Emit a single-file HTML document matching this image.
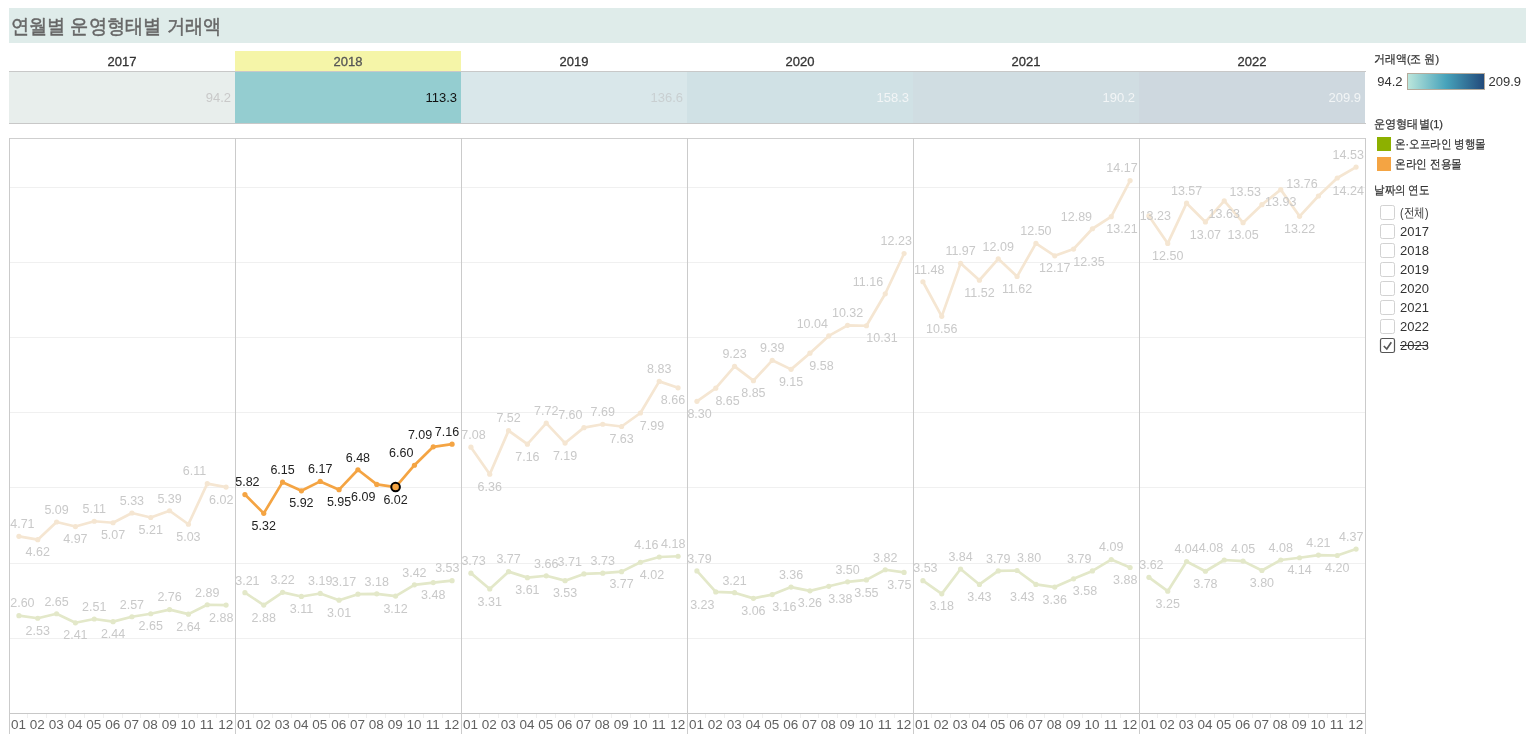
<!DOCTYPE html>
<html><head><meta charset="utf-8"><title>연월별 운영형태별 거래액</title>
<style>
html,body{margin:0;padding:0;background:#fff;}
body{width:1534px;height:744px;overflow:hidden;position:relative;font-family:"Liberation Sans", sans-serif;}
#title{position:absolute;left:9px;top:8px;width:1517px;height:35px;background:#dfecea;}
#title span{position:absolute;left:3px;top:5px;font-size:20px;color:#666;white-space:nowrap;}
svg{position:absolute;left:0;top:0;will-change:transform;}
svg text{font-family:"Liberation Sans", sans-serif;}
</style></head><body>
<div id="title"></div>
<svg width="1534" height="744" viewBox="0 0 1534 744">
<rect x="9" y="72" width="226" height="51" fill="#e8eeec"/>
<rect x="235" y="72" width="226" height="51" fill="#94cdd0"/>
<rect x="461" y="72" width="226" height="51" fill="#d9e7ea"/>
<rect x="687" y="72" width="226" height="51" fill="#d0e1e5"/>
<rect x="913" y="72" width="226" height="51" fill="#d0dde2"/>
<rect x="1139" y="72" width="226" height="51" fill="#ced8df"/>
<text x="231" y="102" text-anchor="end" font-size="13" fill="#c9c9c9">94.2</text>
<text x="457" y="102" text-anchor="end" font-size="13" fill="#111">113.3</text>
<text x="683" y="102" text-anchor="end" font-size="13" fill="#c9cfd1">136.6</text>
<text x="909" y="102" text-anchor="end" font-size="13" fill="#f2f5f6">158.3</text>
<text x="1135" y="102" text-anchor="end" font-size="13" fill="#f2f5f6">190.2</text>
<text x="1361" y="102" text-anchor="end" font-size="13" fill="#f2f5f6">209.9</text>
<rect x="235" y="51" width="226" height="20" fill="#f5f5a8"/>
<text x="122" y="66" text-anchor="middle" font-size="13" fill="#333" stroke="#333" stroke-width="0.3">2017</text>
<text x="348" y="66" text-anchor="middle" font-size="13" fill="#555" stroke="#555" stroke-width="0.3">2018</text>
<text x="574" y="66" text-anchor="middle" font-size="13" fill="#333" stroke="#333" stroke-width="0.3">2019</text>
<text x="800" y="66" text-anchor="middle" font-size="13" fill="#333" stroke="#333" stroke-width="0.3">2020</text>
<text x="1026" y="66" text-anchor="middle" font-size="13" fill="#333" stroke="#333" stroke-width="0.3">2021</text>
<text x="1252" y="66" text-anchor="middle" font-size="13" fill="#333" stroke="#333" stroke-width="0.3">2022</text>
<line x1="9" y1="71.5" x2="1366" y2="71.5" stroke="#c8c8c8" stroke-width="1"/>
<line x1="9" y1="123.5" x2="1366" y2="123.5" stroke="#c8c8c8" stroke-width="1"/>
<line x1="10" y1="638.5" x2="1365" y2="638.5" stroke="#f0f0f0" stroke-width="1"/>
<line x1="10" y1="563.5" x2="1365" y2="563.5" stroke="#f0f0f0" stroke-width="1"/>
<line x1="10" y1="487.5" x2="1365" y2="487.5" stroke="#f0f0f0" stroke-width="1"/>
<line x1="10" y1="412.5" x2="1365" y2="412.5" stroke="#f0f0f0" stroke-width="1"/>
<line x1="10" y1="337.5" x2="1365" y2="337.5" stroke="#f0f0f0" stroke-width="1"/>
<line x1="10" y1="262.5" x2="1365" y2="262.5" stroke="#f0f0f0" stroke-width="1"/>
<line x1="10" y1="187.5" x2="1365" y2="187.5" stroke="#f0f0f0" stroke-width="1"/>
<line x1="9" y1="138.5" x2="1366" y2="138.5" stroke="#cfcfcf" stroke-width="1"/>
<line x1="9" y1="713.5" x2="1366" y2="713.5" stroke="#c8c8c8" stroke-width="1"/>
<line x1="9.5" y1="138" x2="9.5" y2="734" stroke="#cbcbcb" stroke-width="1"/>
<line x1="235.5" y1="138" x2="235.5" y2="734" stroke="#cbcbcb" stroke-width="1"/>
<line x1="461.5" y1="138" x2="461.5" y2="734" stroke="#cbcbcb" stroke-width="1"/>
<line x1="687.5" y1="138" x2="687.5" y2="734" stroke="#cbcbcb" stroke-width="1"/>
<line x1="913.5" y1="138" x2="913.5" y2="734" stroke="#cbcbcb" stroke-width="1"/>
<line x1="1139.5" y1="138" x2="1139.5" y2="734" stroke="#cbcbcb" stroke-width="1"/>
<line x1="1365.5" y1="138" x2="1365.5" y2="734" stroke="#cbcbcb" stroke-width="1"/>
<line x1="27.50" y1="714" x2="27.50" y2="718" stroke="#f0f0f0" stroke-width="1"/>
<line x1="46.50" y1="714" x2="46.50" y2="718" stroke="#f0f0f0" stroke-width="1"/>
<line x1="65.50" y1="714" x2="65.50" y2="718" stroke="#f0f0f0" stroke-width="1"/>
<line x1="84.50" y1="714" x2="84.50" y2="718" stroke="#f0f0f0" stroke-width="1"/>
<line x1="103.50" y1="714" x2="103.50" y2="718" stroke="#f0f0f0" stroke-width="1"/>
<line x1="122.50" y1="714" x2="122.50" y2="718" stroke="#f0f0f0" stroke-width="1"/>
<line x1="140.50" y1="714" x2="140.50" y2="718" stroke="#f0f0f0" stroke-width="1"/>
<line x1="159.50" y1="714" x2="159.50" y2="718" stroke="#f0f0f0" stroke-width="1"/>
<line x1="178.50" y1="714" x2="178.50" y2="718" stroke="#f0f0f0" stroke-width="1"/>
<line x1="197.50" y1="714" x2="197.50" y2="718" stroke="#f0f0f0" stroke-width="1"/>
<line x1="216.50" y1="714" x2="216.50" y2="718" stroke="#f0f0f0" stroke-width="1"/>
<line x1="253.50" y1="714" x2="253.50" y2="718" stroke="#f0f0f0" stroke-width="1"/>
<line x1="272.50" y1="714" x2="272.50" y2="718" stroke="#f0f0f0" stroke-width="1"/>
<line x1="291.50" y1="714" x2="291.50" y2="718" stroke="#f0f0f0" stroke-width="1"/>
<line x1="310.50" y1="714" x2="310.50" y2="718" stroke="#f0f0f0" stroke-width="1"/>
<line x1="329.50" y1="714" x2="329.50" y2="718" stroke="#f0f0f0" stroke-width="1"/>
<line x1="348.50" y1="714" x2="348.50" y2="718" stroke="#f0f0f0" stroke-width="1"/>
<line x1="366.50" y1="714" x2="366.50" y2="718" stroke="#f0f0f0" stroke-width="1"/>
<line x1="385.50" y1="714" x2="385.50" y2="718" stroke="#f0f0f0" stroke-width="1"/>
<line x1="404.50" y1="714" x2="404.50" y2="718" stroke="#f0f0f0" stroke-width="1"/>
<line x1="423.50" y1="714" x2="423.50" y2="718" stroke="#f0f0f0" stroke-width="1"/>
<line x1="442.50" y1="714" x2="442.50" y2="718" stroke="#f0f0f0" stroke-width="1"/>
<line x1="479.50" y1="714" x2="479.50" y2="718" stroke="#f0f0f0" stroke-width="1"/>
<line x1="498.50" y1="714" x2="498.50" y2="718" stroke="#f0f0f0" stroke-width="1"/>
<line x1="517.50" y1="714" x2="517.50" y2="718" stroke="#f0f0f0" stroke-width="1"/>
<line x1="536.50" y1="714" x2="536.50" y2="718" stroke="#f0f0f0" stroke-width="1"/>
<line x1="555.50" y1="714" x2="555.50" y2="718" stroke="#f0f0f0" stroke-width="1"/>
<line x1="574.50" y1="714" x2="574.50" y2="718" stroke="#f0f0f0" stroke-width="1"/>
<line x1="592.50" y1="714" x2="592.50" y2="718" stroke="#f0f0f0" stroke-width="1"/>
<line x1="611.50" y1="714" x2="611.50" y2="718" stroke="#f0f0f0" stroke-width="1"/>
<line x1="630.50" y1="714" x2="630.50" y2="718" stroke="#f0f0f0" stroke-width="1"/>
<line x1="649.50" y1="714" x2="649.50" y2="718" stroke="#f0f0f0" stroke-width="1"/>
<line x1="668.50" y1="714" x2="668.50" y2="718" stroke="#f0f0f0" stroke-width="1"/>
<line x1="705.50" y1="714" x2="705.50" y2="718" stroke="#f0f0f0" stroke-width="1"/>
<line x1="724.50" y1="714" x2="724.50" y2="718" stroke="#f0f0f0" stroke-width="1"/>
<line x1="743.50" y1="714" x2="743.50" y2="718" stroke="#f0f0f0" stroke-width="1"/>
<line x1="762.50" y1="714" x2="762.50" y2="718" stroke="#f0f0f0" stroke-width="1"/>
<line x1="781.50" y1="714" x2="781.50" y2="718" stroke="#f0f0f0" stroke-width="1"/>
<line x1="800.50" y1="714" x2="800.50" y2="718" stroke="#f0f0f0" stroke-width="1"/>
<line x1="818.50" y1="714" x2="818.50" y2="718" stroke="#f0f0f0" stroke-width="1"/>
<line x1="837.50" y1="714" x2="837.50" y2="718" stroke="#f0f0f0" stroke-width="1"/>
<line x1="856.50" y1="714" x2="856.50" y2="718" stroke="#f0f0f0" stroke-width="1"/>
<line x1="875.50" y1="714" x2="875.50" y2="718" stroke="#f0f0f0" stroke-width="1"/>
<line x1="894.50" y1="714" x2="894.50" y2="718" stroke="#f0f0f0" stroke-width="1"/>
<line x1="931.50" y1="714" x2="931.50" y2="718" stroke="#f0f0f0" stroke-width="1"/>
<line x1="950.50" y1="714" x2="950.50" y2="718" stroke="#f0f0f0" stroke-width="1"/>
<line x1="969.50" y1="714" x2="969.50" y2="718" stroke="#f0f0f0" stroke-width="1"/>
<line x1="988.50" y1="714" x2="988.50" y2="718" stroke="#f0f0f0" stroke-width="1"/>
<line x1="1007.50" y1="714" x2="1007.50" y2="718" stroke="#f0f0f0" stroke-width="1"/>
<line x1="1026.50" y1="714" x2="1026.50" y2="718" stroke="#f0f0f0" stroke-width="1"/>
<line x1="1044.50" y1="714" x2="1044.50" y2="718" stroke="#f0f0f0" stroke-width="1"/>
<line x1="1063.50" y1="714" x2="1063.50" y2="718" stroke="#f0f0f0" stroke-width="1"/>
<line x1="1082.50" y1="714" x2="1082.50" y2="718" stroke="#f0f0f0" stroke-width="1"/>
<line x1="1101.50" y1="714" x2="1101.50" y2="718" stroke="#f0f0f0" stroke-width="1"/>
<line x1="1120.50" y1="714" x2="1120.50" y2="718" stroke="#f0f0f0" stroke-width="1"/>
<line x1="1157.50" y1="714" x2="1157.50" y2="718" stroke="#f0f0f0" stroke-width="1"/>
<line x1="1176.50" y1="714" x2="1176.50" y2="718" stroke="#f0f0f0" stroke-width="1"/>
<line x1="1195.50" y1="714" x2="1195.50" y2="718" stroke="#f0f0f0" stroke-width="1"/>
<line x1="1214.50" y1="714" x2="1214.50" y2="718" stroke="#f0f0f0" stroke-width="1"/>
<line x1="1233.50" y1="714" x2="1233.50" y2="718" stroke="#f0f0f0" stroke-width="1"/>
<line x1="1252.50" y1="714" x2="1252.50" y2="718" stroke="#f0f0f0" stroke-width="1"/>
<line x1="1270.50" y1="714" x2="1270.50" y2="718" stroke="#f0f0f0" stroke-width="1"/>
<line x1="1289.50" y1="714" x2="1289.50" y2="718" stroke="#f0f0f0" stroke-width="1"/>
<line x1="1308.50" y1="714" x2="1308.50" y2="718" stroke="#f0f0f0" stroke-width="1"/>
<line x1="1327.50" y1="714" x2="1327.50" y2="718" stroke="#f0f0f0" stroke-width="1"/>
<line x1="1346.50" y1="714" x2="1346.50" y2="718" stroke="#f0f0f0" stroke-width="1"/>
<text x="18.52" y="729" text-anchor="middle" font-size="13.5" fill="#606060">01</text>
<text x="37.35" y="729" text-anchor="middle" font-size="13.5" fill="#606060">02</text>
<text x="56.18" y="729" text-anchor="middle" font-size="13.5" fill="#606060">03</text>
<text x="75.02" y="729" text-anchor="middle" font-size="13.5" fill="#606060">04</text>
<text x="93.85" y="729" text-anchor="middle" font-size="13.5" fill="#606060">05</text>
<text x="112.68" y="729" text-anchor="middle" font-size="13.5" fill="#606060">06</text>
<text x="131.52" y="729" text-anchor="middle" font-size="13.5" fill="#606060">07</text>
<text x="150.35" y="729" text-anchor="middle" font-size="13.5" fill="#606060">08</text>
<text x="169.18" y="729" text-anchor="middle" font-size="13.5" fill="#606060">09</text>
<text x="188.02" y="729" text-anchor="middle" font-size="13.5" fill="#606060">10</text>
<text x="206.85" y="729" text-anchor="middle" font-size="13.5" fill="#606060">11</text>
<text x="225.68" y="729" text-anchor="middle" font-size="13.5" fill="#606060">12</text>
<text x="244.52" y="729" text-anchor="middle" font-size="13.5" fill="#606060">01</text>
<text x="263.35" y="729" text-anchor="middle" font-size="13.5" fill="#606060">02</text>
<text x="282.18" y="729" text-anchor="middle" font-size="13.5" fill="#606060">03</text>
<text x="301.02" y="729" text-anchor="middle" font-size="13.5" fill="#606060">04</text>
<text x="319.85" y="729" text-anchor="middle" font-size="13.5" fill="#606060">05</text>
<text x="338.68" y="729" text-anchor="middle" font-size="13.5" fill="#606060">06</text>
<text x="357.52" y="729" text-anchor="middle" font-size="13.5" fill="#606060">07</text>
<text x="376.35" y="729" text-anchor="middle" font-size="13.5" fill="#606060">08</text>
<text x="395.18" y="729" text-anchor="middle" font-size="13.5" fill="#606060">09</text>
<text x="414.02" y="729" text-anchor="middle" font-size="13.5" fill="#606060">10</text>
<text x="432.85" y="729" text-anchor="middle" font-size="13.5" fill="#606060">11</text>
<text x="451.68" y="729" text-anchor="middle" font-size="13.5" fill="#606060">12</text>
<text x="470.52" y="729" text-anchor="middle" font-size="13.5" fill="#606060">01</text>
<text x="489.35" y="729" text-anchor="middle" font-size="13.5" fill="#606060">02</text>
<text x="508.18" y="729" text-anchor="middle" font-size="13.5" fill="#606060">03</text>
<text x="527.02" y="729" text-anchor="middle" font-size="13.5" fill="#606060">04</text>
<text x="545.85" y="729" text-anchor="middle" font-size="13.5" fill="#606060">05</text>
<text x="564.68" y="729" text-anchor="middle" font-size="13.5" fill="#606060">06</text>
<text x="583.52" y="729" text-anchor="middle" font-size="13.5" fill="#606060">07</text>
<text x="602.35" y="729" text-anchor="middle" font-size="13.5" fill="#606060">08</text>
<text x="621.18" y="729" text-anchor="middle" font-size="13.5" fill="#606060">09</text>
<text x="640.02" y="729" text-anchor="middle" font-size="13.5" fill="#606060">10</text>
<text x="658.85" y="729" text-anchor="middle" font-size="13.5" fill="#606060">11</text>
<text x="677.68" y="729" text-anchor="middle" font-size="13.5" fill="#606060">12</text>
<text x="696.52" y="729" text-anchor="middle" font-size="13.5" fill="#606060">01</text>
<text x="715.35" y="729" text-anchor="middle" font-size="13.5" fill="#606060">02</text>
<text x="734.18" y="729" text-anchor="middle" font-size="13.5" fill="#606060">03</text>
<text x="753.02" y="729" text-anchor="middle" font-size="13.5" fill="#606060">04</text>
<text x="771.85" y="729" text-anchor="middle" font-size="13.5" fill="#606060">05</text>
<text x="790.68" y="729" text-anchor="middle" font-size="13.5" fill="#606060">06</text>
<text x="809.52" y="729" text-anchor="middle" font-size="13.5" fill="#606060">07</text>
<text x="828.35" y="729" text-anchor="middle" font-size="13.5" fill="#606060">08</text>
<text x="847.18" y="729" text-anchor="middle" font-size="13.5" fill="#606060">09</text>
<text x="866.02" y="729" text-anchor="middle" font-size="13.5" fill="#606060">10</text>
<text x="884.85" y="729" text-anchor="middle" font-size="13.5" fill="#606060">11</text>
<text x="903.68" y="729" text-anchor="middle" font-size="13.5" fill="#606060">12</text>
<text x="922.52" y="729" text-anchor="middle" font-size="13.5" fill="#606060">01</text>
<text x="941.35" y="729" text-anchor="middle" font-size="13.5" fill="#606060">02</text>
<text x="960.18" y="729" text-anchor="middle" font-size="13.5" fill="#606060">03</text>
<text x="979.02" y="729" text-anchor="middle" font-size="13.5" fill="#606060">04</text>
<text x="997.85" y="729" text-anchor="middle" font-size="13.5" fill="#606060">05</text>
<text x="1016.68" y="729" text-anchor="middle" font-size="13.5" fill="#606060">06</text>
<text x="1035.52" y="729" text-anchor="middle" font-size="13.5" fill="#606060">07</text>
<text x="1054.35" y="729" text-anchor="middle" font-size="13.5" fill="#606060">08</text>
<text x="1073.18" y="729" text-anchor="middle" font-size="13.5" fill="#606060">09</text>
<text x="1092.02" y="729" text-anchor="middle" font-size="13.5" fill="#606060">10</text>
<text x="1110.85" y="729" text-anchor="middle" font-size="13.5" fill="#606060">11</text>
<text x="1129.68" y="729" text-anchor="middle" font-size="13.5" fill="#606060">12</text>
<text x="1148.52" y="729" text-anchor="middle" font-size="13.5" fill="#606060">01</text>
<text x="1167.35" y="729" text-anchor="middle" font-size="13.5" fill="#606060">02</text>
<text x="1186.18" y="729" text-anchor="middle" font-size="13.5" fill="#606060">03</text>
<text x="1205.02" y="729" text-anchor="middle" font-size="13.5" fill="#606060">04</text>
<text x="1223.85" y="729" text-anchor="middle" font-size="13.5" fill="#606060">05</text>
<text x="1242.68" y="729" text-anchor="middle" font-size="13.5" fill="#606060">06</text>
<text x="1261.52" y="729" text-anchor="middle" font-size="13.5" fill="#606060">07</text>
<text x="1280.35" y="729" text-anchor="middle" font-size="13.5" fill="#606060">08</text>
<text x="1299.18" y="729" text-anchor="middle" font-size="13.5" fill="#606060">09</text>
<text x="1318.02" y="729" text-anchor="middle" font-size="13.5" fill="#606060">10</text>
<text x="1336.85" y="729" text-anchor="middle" font-size="13.5" fill="#606060">11</text>
<text x="1355.68" y="729" text-anchor="middle" font-size="13.5" fill="#606060">12</text>
<path d="M18.92,536.30 L37.75,539.69 L56.58,522.02 L75.42,526.53 L94.25,521.26 L113.08,522.77 L131.92,512.99 L150.75,517.50 L169.58,510.74 L188.42,524.27 L207.25,483.66 L226.08,487.05" fill="none" stroke="#f5e6d2" stroke-width="2.7" stroke-linejoin="round" stroke-linecap="round"/>
<circle cx="18.92" cy="536.30" r="2.6" fill="#f5e6d2"/>
<circle cx="37.75" cy="539.69" r="2.6" fill="#f5e6d2"/>
<circle cx="56.58" cy="522.02" r="2.6" fill="#f5e6d2"/>
<circle cx="75.42" cy="526.53" r="2.6" fill="#f5e6d2"/>
<circle cx="94.25" cy="521.26" r="2.6" fill="#f5e6d2"/>
<circle cx="113.08" cy="522.77" r="2.6" fill="#f5e6d2"/>
<circle cx="131.92" cy="512.99" r="2.6" fill="#f5e6d2"/>
<circle cx="150.75" cy="517.50" r="2.6" fill="#f5e6d2"/>
<circle cx="169.58" cy="510.74" r="2.6" fill="#f5e6d2"/>
<circle cx="188.42" cy="524.27" r="2.6" fill="#f5e6d2"/>
<circle cx="207.25" cy="483.66" r="2.6" fill="#f5e6d2"/>
<circle cx="226.08" cy="487.05" r="2.6" fill="#f5e6d2"/>
<path d="M18.92,615.64 L37.75,618.27 L56.58,613.76 L75.42,622.78 L94.25,619.02 L113.08,621.66 L131.92,616.77 L150.75,613.76 L169.58,609.62 L188.42,614.14 L207.25,604.74 L226.08,605.11" fill="none" stroke="#e3e8c9" stroke-width="2.7" stroke-linejoin="round" stroke-linecap="round"/>
<circle cx="18.92" cy="615.64" r="2.6" fill="#e3e8c9"/>
<circle cx="37.75" cy="618.27" r="2.6" fill="#e3e8c9"/>
<circle cx="56.58" cy="613.76" r="2.6" fill="#e3e8c9"/>
<circle cx="75.42" cy="622.78" r="2.6" fill="#e3e8c9"/>
<circle cx="94.25" cy="619.02" r="2.6" fill="#e3e8c9"/>
<circle cx="113.08" cy="621.66" r="2.6" fill="#e3e8c9"/>
<circle cx="131.92" cy="616.77" r="2.6" fill="#e3e8c9"/>
<circle cx="150.75" cy="613.76" r="2.6" fill="#e3e8c9"/>
<circle cx="169.58" cy="609.62" r="2.6" fill="#e3e8c9"/>
<circle cx="188.42" cy="614.14" r="2.6" fill="#e3e8c9"/>
<circle cx="207.25" cy="604.74" r="2.6" fill="#e3e8c9"/>
<circle cx="226.08" cy="605.11" r="2.6" fill="#e3e8c9"/>
<path d="M244.92,592.70 L263.75,605.11 L282.58,592.33 L301.42,596.46 L320.25,593.46 L339.08,600.22 L357.92,594.21 L376.75,593.83 L395.58,596.09 L414.42,584.81 L433.25,582.55 L452.08,580.67" fill="none" stroke="#e3e8c9" stroke-width="2.7" stroke-linejoin="round" stroke-linecap="round"/>
<circle cx="244.92" cy="592.70" r="2.6" fill="#e3e8c9"/>
<circle cx="263.75" cy="605.11" r="2.6" fill="#e3e8c9"/>
<circle cx="282.58" cy="592.33" r="2.6" fill="#e3e8c9"/>
<circle cx="301.42" cy="596.46" r="2.6" fill="#e3e8c9"/>
<circle cx="320.25" cy="593.46" r="2.6" fill="#e3e8c9"/>
<circle cx="339.08" cy="600.22" r="2.6" fill="#e3e8c9"/>
<circle cx="357.92" cy="594.21" r="2.6" fill="#e3e8c9"/>
<circle cx="376.75" cy="593.83" r="2.6" fill="#e3e8c9"/>
<circle cx="395.58" cy="596.09" r="2.6" fill="#e3e8c9"/>
<circle cx="414.42" cy="584.81" r="2.6" fill="#e3e8c9"/>
<circle cx="433.25" cy="582.55" r="2.6" fill="#e3e8c9"/>
<circle cx="452.08" cy="580.67" r="2.6" fill="#e3e8c9"/>
<path d="M470.92,447.19 L489.75,474.26 L508.58,430.65 L527.42,444.18 L546.25,423.13 L565.08,443.06 L583.92,427.64 L602.75,424.26 L621.58,426.51 L640.42,412.98 L659.25,381.39 L678.08,387.78" fill="none" stroke="#f5e6d2" stroke-width="2.7" stroke-linejoin="round" stroke-linecap="round"/>
<circle cx="470.92" cy="447.19" r="2.6" fill="#f5e6d2"/>
<circle cx="489.75" cy="474.26" r="2.6" fill="#f5e6d2"/>
<circle cx="508.58" cy="430.65" r="2.6" fill="#f5e6d2"/>
<circle cx="527.42" cy="444.18" r="2.6" fill="#f5e6d2"/>
<circle cx="546.25" cy="423.13" r="2.6" fill="#f5e6d2"/>
<circle cx="565.08" cy="443.06" r="2.6" fill="#f5e6d2"/>
<circle cx="583.92" cy="427.64" r="2.6" fill="#f5e6d2"/>
<circle cx="602.75" cy="424.26" r="2.6" fill="#f5e6d2"/>
<circle cx="621.58" cy="426.51" r="2.6" fill="#f5e6d2"/>
<circle cx="640.42" cy="412.98" r="2.6" fill="#f5e6d2"/>
<circle cx="659.25" cy="381.39" r="2.6" fill="#f5e6d2"/>
<circle cx="678.08" cy="387.78" r="2.6" fill="#f5e6d2"/>
<path d="M470.92,573.15 L489.75,588.94 L508.58,571.65 L527.42,577.66 L546.25,575.78 L565.08,580.67 L583.92,573.90 L602.75,573.15 L621.58,571.65 L640.42,562.25 L659.25,556.98 L678.08,556.23" fill="none" stroke="#e3e8c9" stroke-width="2.7" stroke-linejoin="round" stroke-linecap="round"/>
<circle cx="470.92" cy="573.15" r="2.6" fill="#e3e8c9"/>
<circle cx="489.75" cy="588.94" r="2.6" fill="#e3e8c9"/>
<circle cx="508.58" cy="571.65" r="2.6" fill="#e3e8c9"/>
<circle cx="527.42" cy="577.66" r="2.6" fill="#e3e8c9"/>
<circle cx="546.25" cy="575.78" r="2.6" fill="#e3e8c9"/>
<circle cx="565.08" cy="580.67" r="2.6" fill="#e3e8c9"/>
<circle cx="583.92" cy="573.90" r="2.6" fill="#e3e8c9"/>
<circle cx="602.75" cy="573.15" r="2.6" fill="#e3e8c9"/>
<circle cx="621.58" cy="571.65" r="2.6" fill="#e3e8c9"/>
<circle cx="640.42" cy="562.25" r="2.6" fill="#e3e8c9"/>
<circle cx="659.25" cy="556.98" r="2.6" fill="#e3e8c9"/>
<circle cx="678.08" cy="556.23" r="2.6" fill="#e3e8c9"/>
<path d="M696.92,401.32 L715.75,388.16 L734.58,366.35 L753.42,380.64 L772.25,360.34 L791.08,369.36 L809.92,353.19 L828.75,335.90 L847.58,325.37 L866.42,325.74 L885.25,293.78 L904.08,253.55" fill="none" stroke="#f5e6d2" stroke-width="2.7" stroke-linejoin="round" stroke-linecap="round"/>
<circle cx="696.92" cy="401.32" r="2.6" fill="#f5e6d2"/>
<circle cx="715.75" cy="388.16" r="2.6" fill="#f5e6d2"/>
<circle cx="734.58" cy="366.35" r="2.6" fill="#f5e6d2"/>
<circle cx="753.42" cy="380.64" r="2.6" fill="#f5e6d2"/>
<circle cx="772.25" cy="360.34" r="2.6" fill="#f5e6d2"/>
<circle cx="791.08" cy="369.36" r="2.6" fill="#f5e6d2"/>
<circle cx="809.92" cy="353.19" r="2.6" fill="#f5e6d2"/>
<circle cx="828.75" cy="335.90" r="2.6" fill="#f5e6d2"/>
<circle cx="847.58" cy="325.37" r="2.6" fill="#f5e6d2"/>
<circle cx="866.42" cy="325.74" r="2.6" fill="#f5e6d2"/>
<circle cx="885.25" cy="293.78" r="2.6" fill="#f5e6d2"/>
<circle cx="904.08" cy="253.55" r="2.6" fill="#f5e6d2"/>
<path d="M696.92,570.90 L715.75,591.95 L734.58,592.70 L753.42,598.34 L772.25,594.58 L791.08,587.06 L809.92,590.82 L828.75,586.31 L847.58,581.80 L866.42,579.92 L885.25,569.77 L904.08,572.40" fill="none" stroke="#e3e8c9" stroke-width="2.7" stroke-linejoin="round" stroke-linecap="round"/>
<circle cx="696.92" cy="570.90" r="2.6" fill="#e3e8c9"/>
<circle cx="715.75" cy="591.95" r="2.6" fill="#e3e8c9"/>
<circle cx="734.58" cy="592.70" r="2.6" fill="#e3e8c9"/>
<circle cx="753.42" cy="598.34" r="2.6" fill="#e3e8c9"/>
<circle cx="772.25" cy="594.58" r="2.6" fill="#e3e8c9"/>
<circle cx="791.08" cy="587.06" r="2.6" fill="#e3e8c9"/>
<circle cx="809.92" cy="590.82" r="2.6" fill="#e3e8c9"/>
<circle cx="828.75" cy="586.31" r="2.6" fill="#e3e8c9"/>
<circle cx="847.58" cy="581.80" r="2.6" fill="#e3e8c9"/>
<circle cx="866.42" cy="579.92" r="2.6" fill="#e3e8c9"/>
<circle cx="885.25" cy="569.77" r="2.6" fill="#e3e8c9"/>
<circle cx="904.08" cy="572.40" r="2.6" fill="#e3e8c9"/>
<path d="M922.92,281.75 L941.75,316.34 L960.58,263.33 L979.42,280.25 L998.25,258.82 L1017.08,276.49 L1035.92,243.40 L1054.75,255.81 L1073.58,249.04 L1092.42,228.74 L1111.25,216.70 L1130.08,180.61" fill="none" stroke="#f5e6d2" stroke-width="2.7" stroke-linejoin="round" stroke-linecap="round"/>
<circle cx="922.92" cy="281.75" r="2.6" fill="#f5e6d2"/>
<circle cx="941.75" cy="316.34" r="2.6" fill="#f5e6d2"/>
<circle cx="960.58" cy="263.33" r="2.6" fill="#f5e6d2"/>
<circle cx="979.42" cy="280.25" r="2.6" fill="#f5e6d2"/>
<circle cx="998.25" cy="258.82" r="2.6" fill="#f5e6d2"/>
<circle cx="1017.08" cy="276.49" r="2.6" fill="#f5e6d2"/>
<circle cx="1035.92" cy="243.40" r="2.6" fill="#f5e6d2"/>
<circle cx="1054.75" cy="255.81" r="2.6" fill="#f5e6d2"/>
<circle cx="1073.58" cy="249.04" r="2.6" fill="#f5e6d2"/>
<circle cx="1092.42" cy="228.74" r="2.6" fill="#f5e6d2"/>
<circle cx="1111.25" cy="216.70" r="2.6" fill="#f5e6d2"/>
<circle cx="1130.08" cy="180.61" r="2.6" fill="#f5e6d2"/>
<path d="M922.92,580.67 L941.75,593.83 L960.58,569.02 L979.42,584.43 L998.25,570.90 L1017.08,570.52 L1035.92,584.43 L1054.75,587.06 L1073.58,578.79 L1092.42,570.90 L1111.25,559.62 L1130.08,567.51" fill="none" stroke="#e3e8c9" stroke-width="2.7" stroke-linejoin="round" stroke-linecap="round"/>
<circle cx="922.92" cy="580.67" r="2.6" fill="#e3e8c9"/>
<circle cx="941.75" cy="593.83" r="2.6" fill="#e3e8c9"/>
<circle cx="960.58" cy="569.02" r="2.6" fill="#e3e8c9"/>
<circle cx="979.42" cy="584.43" r="2.6" fill="#e3e8c9"/>
<circle cx="998.25" cy="570.90" r="2.6" fill="#e3e8c9"/>
<circle cx="1017.08" cy="570.52" r="2.6" fill="#e3e8c9"/>
<circle cx="1035.92" cy="584.43" r="2.6" fill="#e3e8c9"/>
<circle cx="1054.75" cy="587.06" r="2.6" fill="#e3e8c9"/>
<circle cx="1073.58" cy="578.79" r="2.6" fill="#e3e8c9"/>
<circle cx="1092.42" cy="570.90" r="2.6" fill="#e3e8c9"/>
<circle cx="1111.25" cy="559.62" r="2.6" fill="#e3e8c9"/>
<circle cx="1130.08" cy="567.51" r="2.6" fill="#e3e8c9"/>
<path d="M1148.92,215.95 L1167.75,243.40 L1186.58,203.17 L1205.42,221.97 L1224.25,200.91 L1243.08,222.72 L1261.92,204.67 L1280.75,189.63 L1299.58,216.33 L1318.42,196.02 L1337.25,177.98 L1356.08,167.07" fill="none" stroke="#f5e6d2" stroke-width="2.7" stroke-linejoin="round" stroke-linecap="round"/>
<circle cx="1148.92" cy="215.95" r="2.6" fill="#f5e6d2"/>
<circle cx="1167.75" cy="243.40" r="2.6" fill="#f5e6d2"/>
<circle cx="1186.58" cy="203.17" r="2.6" fill="#f5e6d2"/>
<circle cx="1205.42" cy="221.97" r="2.6" fill="#f5e6d2"/>
<circle cx="1224.25" cy="200.91" r="2.6" fill="#f5e6d2"/>
<circle cx="1243.08" cy="222.72" r="2.6" fill="#f5e6d2"/>
<circle cx="1261.92" cy="204.67" r="2.6" fill="#f5e6d2"/>
<circle cx="1280.75" cy="189.63" r="2.6" fill="#f5e6d2"/>
<circle cx="1299.58" cy="216.33" r="2.6" fill="#f5e6d2"/>
<circle cx="1318.42" cy="196.02" r="2.6" fill="#f5e6d2"/>
<circle cx="1337.25" cy="177.98" r="2.6" fill="#f5e6d2"/>
<circle cx="1356.08" cy="167.07" r="2.6" fill="#f5e6d2"/>
<path d="M1148.92,577.29 L1167.75,591.20 L1186.58,561.50 L1205.42,571.27 L1224.25,559.99 L1243.08,561.12 L1261.92,570.52 L1280.75,559.99 L1299.58,557.74 L1318.42,555.10 L1337.25,555.48 L1356.08,549.09" fill="none" stroke="#e3e8c9" stroke-width="2.7" stroke-linejoin="round" stroke-linecap="round"/>
<circle cx="1148.92" cy="577.29" r="2.6" fill="#e3e8c9"/>
<circle cx="1167.75" cy="591.20" r="2.6" fill="#e3e8c9"/>
<circle cx="1186.58" cy="561.50" r="2.6" fill="#e3e8c9"/>
<circle cx="1205.42" cy="571.27" r="2.6" fill="#e3e8c9"/>
<circle cx="1224.25" cy="559.99" r="2.6" fill="#e3e8c9"/>
<circle cx="1243.08" cy="561.12" r="2.6" fill="#e3e8c9"/>
<circle cx="1261.92" cy="570.52" r="2.6" fill="#e3e8c9"/>
<circle cx="1280.75" cy="559.99" r="2.6" fill="#e3e8c9"/>
<circle cx="1299.58" cy="557.74" r="2.6" fill="#e3e8c9"/>
<circle cx="1318.42" cy="555.10" r="2.6" fill="#e3e8c9"/>
<circle cx="1337.25" cy="555.48" r="2.6" fill="#e3e8c9"/>
<circle cx="1356.08" cy="549.09" r="2.6" fill="#e3e8c9"/>
<text x="22.40" y="528.10" text-anchor="middle" font-size="12.5" fill="#c9c9c9">4.71</text>
<text x="37.75" y="556.29" text-anchor="middle" font-size="12.5" fill="#c9c9c9">4.62</text>
<text x="56.58" y="513.82" text-anchor="middle" font-size="12.5" fill="#c9c9c9">5.09</text>
<text x="75.42" y="543.13" text-anchor="middle" font-size="12.5" fill="#c9c9c9">4.97</text>
<text x="94.25" y="513.06" text-anchor="middle" font-size="12.5" fill="#c9c9c9">5.11</text>
<text x="113.08" y="539.37" text-anchor="middle" font-size="12.5" fill="#c9c9c9">5.07</text>
<text x="131.92" y="504.79" text-anchor="middle" font-size="12.5" fill="#c9c9c9">5.33</text>
<text x="150.75" y="534.10" text-anchor="middle" font-size="12.5" fill="#c9c9c9">5.21</text>
<text x="169.58" y="502.54" text-anchor="middle" font-size="12.5" fill="#c9c9c9">5.39</text>
<text x="188.42" y="540.87" text-anchor="middle" font-size="12.5" fill="#c9c9c9">5.03</text>
<text x="194.50" y="475.46" text-anchor="middle" font-size="12.5" fill="#c9c9c9">6.11</text>
<text x="221.20" y="503.65" text-anchor="middle" font-size="12.5" fill="#c9c9c9">6.02</text>
<text x="22.40" y="607.44" text-anchor="middle" font-size="12.5" fill="#c9c9c9">2.60</text>
<text x="37.75" y="634.87" text-anchor="middle" font-size="12.5" fill="#c9c9c9">2.53</text>
<text x="56.58" y="605.56" text-anchor="middle" font-size="12.5" fill="#c9c9c9">2.65</text>
<text x="75.42" y="639.38" text-anchor="middle" font-size="12.5" fill="#c9c9c9">2.41</text>
<text x="94.25" y="610.82" text-anchor="middle" font-size="12.5" fill="#c9c9c9">2.51</text>
<text x="113.08" y="638.26" text-anchor="middle" font-size="12.5" fill="#c9c9c9">2.44</text>
<text x="131.92" y="608.57" text-anchor="middle" font-size="12.5" fill="#c9c9c9">2.57</text>
<text x="150.75" y="630.36" text-anchor="middle" font-size="12.5" fill="#c9c9c9">2.65</text>
<text x="169.58" y="601.42" text-anchor="middle" font-size="12.5" fill="#c9c9c9">2.76</text>
<text x="188.42" y="630.74" text-anchor="middle" font-size="12.5" fill="#c9c9c9">2.64</text>
<text x="207.25" y="596.54" text-anchor="middle" font-size="12.5" fill="#c9c9c9">2.89</text>
<text x="221.20" y="621.71" text-anchor="middle" font-size="12.5" fill="#c9c9c9">2.88</text>
<text x="247.40" y="584.50" text-anchor="middle" font-size="12.5" fill="#c9c9c9">3.21</text>
<text x="263.75" y="621.71" text-anchor="middle" font-size="12.5" fill="#c9c9c9">2.88</text>
<text x="282.58" y="584.13" text-anchor="middle" font-size="12.5" fill="#c9c9c9">3.22</text>
<text x="301.42" y="613.06" text-anchor="middle" font-size="12.5" fill="#c9c9c9">3.11</text>
<text x="320.25" y="585.26" text-anchor="middle" font-size="12.5" fill="#c9c9c9">3.19</text>
<text x="339.08" y="616.82" text-anchor="middle" font-size="12.5" fill="#c9c9c9">3.01</text>
<text x="344.00" y="586.01" text-anchor="middle" font-size="12.5" fill="#c9c9c9">3.17</text>
<text x="376.75" y="585.63" text-anchor="middle" font-size="12.5" fill="#c9c9c9">3.18</text>
<text x="395.58" y="612.69" text-anchor="middle" font-size="12.5" fill="#c9c9c9">3.12</text>
<text x="414.42" y="576.61" text-anchor="middle" font-size="12.5" fill="#c9c9c9">3.42</text>
<text x="433.25" y="599.15" text-anchor="middle" font-size="12.5" fill="#c9c9c9">3.48</text>
<text x="447.30" y="572.47" text-anchor="middle" font-size="12.5" fill="#c9c9c9">3.53</text>
<text x="473.50" y="438.99" text-anchor="middle" font-size="12.5" fill="#c9c9c9">7.08</text>
<text x="489.75" y="490.86" text-anchor="middle" font-size="12.5" fill="#c9c9c9">6.36</text>
<text x="508.58" y="422.45" text-anchor="middle" font-size="12.5" fill="#c9c9c9">7.52</text>
<text x="527.42" y="460.78" text-anchor="middle" font-size="12.5" fill="#c9c9c9">7.16</text>
<text x="546.25" y="414.93" text-anchor="middle" font-size="12.5" fill="#c9c9c9">7.72</text>
<text x="565.08" y="459.66" text-anchor="middle" font-size="12.5" fill="#c9c9c9">7.19</text>
<text x="570.30" y="419.44" text-anchor="middle" font-size="12.5" fill="#c9c9c9">7.60</text>
<text x="602.75" y="416.06" text-anchor="middle" font-size="12.5" fill="#c9c9c9">7.69</text>
<text x="621.58" y="443.11" text-anchor="middle" font-size="12.5" fill="#c9c9c9">7.63</text>
<text x="652.00" y="429.58" text-anchor="middle" font-size="12.5" fill="#c9c9c9">7.99</text>
<text x="659.25" y="373.19" text-anchor="middle" font-size="12.5" fill="#c9c9c9">8.83</text>
<text x="673.00" y="404.38" text-anchor="middle" font-size="12.5" fill="#c9c9c9">8.66</text>
<text x="473.60" y="564.95" text-anchor="middle" font-size="12.5" fill="#c9c9c9">3.73</text>
<text x="489.75" y="605.54" text-anchor="middle" font-size="12.5" fill="#c9c9c9">3.31</text>
<text x="508.58" y="563.45" text-anchor="middle" font-size="12.5" fill="#c9c9c9">3.77</text>
<text x="527.42" y="594.26" text-anchor="middle" font-size="12.5" fill="#c9c9c9">3.61</text>
<text x="546.25" y="567.58" text-anchor="middle" font-size="12.5" fill="#c9c9c9">3.66</text>
<text x="565.08" y="597.27" text-anchor="middle" font-size="12.5" fill="#c9c9c9">3.53</text>
<text x="569.70" y="565.70" text-anchor="middle" font-size="12.5" fill="#c9c9c9">3.71</text>
<text x="602.75" y="564.95" text-anchor="middle" font-size="12.5" fill="#c9c9c9">3.73</text>
<text x="621.58" y="588.25" text-anchor="middle" font-size="12.5" fill="#c9c9c9">3.77</text>
<text x="652.00" y="578.85" text-anchor="middle" font-size="12.5" fill="#c9c9c9">4.02</text>
<text x="646.40" y="548.78" text-anchor="middle" font-size="12.5" fill="#c9c9c9">4.16</text>
<text x="673.20" y="548.03" text-anchor="middle" font-size="12.5" fill="#c9c9c9">4.18</text>
<text x="699.60" y="417.92" text-anchor="middle" font-size="12.5" fill="#c9c9c9">8.30</text>
<text x="727.60" y="404.76" text-anchor="middle" font-size="12.5" fill="#c9c9c9">8.65</text>
<text x="734.58" y="358.15" text-anchor="middle" font-size="12.5" fill="#c9c9c9">9.23</text>
<text x="753.42" y="397.24" text-anchor="middle" font-size="12.5" fill="#c9c9c9">8.85</text>
<text x="772.25" y="352.14" text-anchor="middle" font-size="12.5" fill="#c9c9c9">9.39</text>
<text x="791.08" y="385.96" text-anchor="middle" font-size="12.5" fill="#c9c9c9">9.15</text>
<text x="821.50" y="369.79" text-anchor="middle" font-size="12.5" fill="#c9c9c9">9.58</text>
<text x="812.30" y="327.70" text-anchor="middle" font-size="12.5" fill="#c9c9c9">10.04</text>
<text x="847.58" y="317.17" text-anchor="middle" font-size="12.5" fill="#c9c9c9">10.32</text>
<text x="882.00" y="342.34" text-anchor="middle" font-size="12.5" fill="#c9c9c9">10.31</text>
<text x="868.00" y="285.58" text-anchor="middle" font-size="12.5" fill="#c9c9c9">11.16</text>
<text x="896.20" y="245.35" text-anchor="middle" font-size="12.5" fill="#c9c9c9">12.23</text>
<text x="699.50" y="562.70" text-anchor="middle" font-size="12.5" fill="#c9c9c9">3.79</text>
<text x="702.30" y="608.55" text-anchor="middle" font-size="12.5" fill="#c9c9c9">3.23</text>
<text x="734.58" y="584.50" text-anchor="middle" font-size="12.5" fill="#c9c9c9">3.21</text>
<text x="753.42" y="614.94" text-anchor="middle" font-size="12.5" fill="#c9c9c9">3.06</text>
<text x="784.30" y="611.18" text-anchor="middle" font-size="12.5" fill="#c9c9c9">3.16</text>
<text x="791.08" y="578.86" text-anchor="middle" font-size="12.5" fill="#c9c9c9">3.36</text>
<text x="809.92" y="607.42" text-anchor="middle" font-size="12.5" fill="#c9c9c9">3.26</text>
<text x="840.30" y="602.91" text-anchor="middle" font-size="12.5" fill="#c9c9c9">3.38</text>
<text x="847.58" y="573.60" text-anchor="middle" font-size="12.5" fill="#c9c9c9">3.50</text>
<text x="866.42" y="596.52" text-anchor="middle" font-size="12.5" fill="#c9c9c9">3.55</text>
<text x="885.25" y="561.57" text-anchor="middle" font-size="12.5" fill="#c9c9c9">3.82</text>
<text x="899.30" y="589.00" text-anchor="middle" font-size="12.5" fill="#c9c9c9">3.75</text>
<text x="929.20" y="273.55" text-anchor="middle" font-size="12.5" fill="#c9c9c9">11.48</text>
<text x="941.75" y="332.94" text-anchor="middle" font-size="12.5" fill="#c9c9c9">10.56</text>
<text x="960.58" y="255.13" text-anchor="middle" font-size="12.5" fill="#c9c9c9">11.97</text>
<text x="979.42" y="296.85" text-anchor="middle" font-size="12.5" fill="#c9c9c9">11.52</text>
<text x="998.25" y="250.62" text-anchor="middle" font-size="12.5" fill="#c9c9c9">12.09</text>
<text x="1017.08" y="293.09" text-anchor="middle" font-size="12.5" fill="#c9c9c9">11.62</text>
<text x="1035.92" y="235.20" text-anchor="middle" font-size="12.5" fill="#c9c9c9">12.50</text>
<text x="1054.75" y="272.41" text-anchor="middle" font-size="12.5" fill="#c9c9c9">12.17</text>
<text x="1089.00" y="265.64" text-anchor="middle" font-size="12.5" fill="#c9c9c9">12.35</text>
<text x="1076.40" y="220.54" text-anchor="middle" font-size="12.5" fill="#c9c9c9">12.89</text>
<text x="1122.00" y="233.30" text-anchor="middle" font-size="12.5" fill="#c9c9c9">13.21</text>
<text x="1122.00" y="172.41" text-anchor="middle" font-size="12.5" fill="#c9c9c9">14.17</text>
<text x="925.40" y="572.47" text-anchor="middle" font-size="12.5" fill="#c9c9c9">3.53</text>
<text x="941.75" y="610.43" text-anchor="middle" font-size="12.5" fill="#c9c9c9">3.18</text>
<text x="960.58" y="560.82" text-anchor="middle" font-size="12.5" fill="#c9c9c9">3.84</text>
<text x="979.42" y="601.03" text-anchor="middle" font-size="12.5" fill="#c9c9c9">3.43</text>
<text x="998.25" y="562.70" text-anchor="middle" font-size="12.5" fill="#c9c9c9">3.79</text>
<text x="1029.10" y="562.32" text-anchor="middle" font-size="12.5" fill="#c9c9c9">3.80</text>
<text x="1022.20" y="601.03" text-anchor="middle" font-size="12.5" fill="#c9c9c9">3.43</text>
<text x="1054.75" y="603.66" text-anchor="middle" font-size="12.5" fill="#c9c9c9">3.36</text>
<text x="1085.00" y="595.39" text-anchor="middle" font-size="12.5" fill="#c9c9c9">3.58</text>
<text x="1079.20" y="562.70" text-anchor="middle" font-size="12.5" fill="#c9c9c9">3.79</text>
<text x="1111.25" y="551.42" text-anchor="middle" font-size="12.5" fill="#c9c9c9">4.09</text>
<text x="1125.20" y="584.11" text-anchor="middle" font-size="12.5" fill="#c9c9c9">3.88</text>
<text x="1155.30" y="220.25" text-anchor="middle" font-size="12.5" fill="#c9c9c9">13.23</text>
<text x="1167.75" y="260.00" text-anchor="middle" font-size="12.5" fill="#c9c9c9">12.50</text>
<text x="1186.58" y="194.97" text-anchor="middle" font-size="12.5" fill="#c9c9c9">13.57</text>
<text x="1205.42" y="238.57" text-anchor="middle" font-size="12.5" fill="#c9c9c9">13.07</text>
<text x="1224.25" y="217.51" text-anchor="middle" font-size="12.5" fill="#c9c9c9">13.63</text>
<text x="1243.08" y="239.32" text-anchor="middle" font-size="12.5" fill="#c9c9c9">13.05</text>
<text x="1245.20" y="196.47" text-anchor="middle" font-size="12.5" fill="#c9c9c9">13.53</text>
<text x="1280.75" y="206.23" text-anchor="middle" font-size="12.5" fill="#c9c9c9">13.93</text>
<text x="1299.58" y="232.93" text-anchor="middle" font-size="12.5" fill="#c9c9c9">13.22</text>
<text x="1302.00" y="187.82" text-anchor="middle" font-size="12.5" fill="#c9c9c9">13.76</text>
<text x="1348.20" y="194.58" text-anchor="middle" font-size="12.5" fill="#c9c9c9">14.24</text>
<text x="1348.20" y="158.87" text-anchor="middle" font-size="12.5" fill="#c9c9c9">14.53</text>
<text x="1151.40" y="569.09" text-anchor="middle" font-size="12.5" fill="#c9c9c9">3.62</text>
<text x="1167.75" y="607.80" text-anchor="middle" font-size="12.5" fill="#c9c9c9">3.25</text>
<text x="1186.58" y="553.30" text-anchor="middle" font-size="12.5" fill="#c9c9c9">4.04</text>
<text x="1205.42" y="587.87" text-anchor="middle" font-size="12.5" fill="#c9c9c9">3.78</text>
<text x="1211.00" y="551.79" text-anchor="middle" font-size="12.5" fill="#c9c9c9">4.08</text>
<text x="1243.08" y="552.92" text-anchor="middle" font-size="12.5" fill="#c9c9c9">4.05</text>
<text x="1261.92" y="587.12" text-anchor="middle" font-size="12.5" fill="#c9c9c9">3.80</text>
<text x="1280.75" y="551.79" text-anchor="middle" font-size="12.5" fill="#c9c9c9">4.08</text>
<text x="1299.58" y="574.34" text-anchor="middle" font-size="12.5" fill="#c9c9c9">4.14</text>
<text x="1318.42" y="546.90" text-anchor="middle" font-size="12.5" fill="#c9c9c9">4.21</text>
<text x="1337.25" y="572.08" text-anchor="middle" font-size="12.5" fill="#c9c9c9">4.20</text>
<text x="1351.20" y="540.89" text-anchor="middle" font-size="12.5" fill="#c9c9c9">4.37</text>
<path d="M244.92,494.57 L263.75,513.37 L282.58,482.16 L301.42,490.81 L320.25,481.41 L339.08,489.68 L357.92,469.75 L376.75,484.42 L395.58,487.05 L414.42,465.24 L433.25,446.82 L452.08,444.18" fill="none" stroke="#f4a443" stroke-width="2.7" stroke-linejoin="round" stroke-linecap="round"/>
<circle cx="244.92" cy="494.57" r="2.6" fill="#f4a443"/>
<circle cx="263.75" cy="513.37" r="2.6" fill="#f4a443"/>
<circle cx="282.58" cy="482.16" r="2.6" fill="#f4a443"/>
<circle cx="301.42" cy="490.81" r="2.6" fill="#f4a443"/>
<circle cx="320.25" cy="481.41" r="2.6" fill="#f4a443"/>
<circle cx="339.08" cy="489.68" r="2.6" fill="#f4a443"/>
<circle cx="357.92" cy="469.75" r="2.6" fill="#f4a443"/>
<circle cx="376.75" cy="484.42" r="2.6" fill="#f4a443"/>
<circle cx="395.58" cy="487.05" r="2.6" fill="#f4a443"/>
<circle cx="414.42" cy="465.24" r="2.6" fill="#f4a443"/>
<circle cx="433.25" cy="446.82" r="2.6" fill="#f4a443"/>
<circle cx="452.08" cy="444.18" r="2.6" fill="#f4a443"/>
<text x="247.40" y="486.37" text-anchor="middle" font-size="12.5" fill="#222">5.82</text>
<text x="263.75" y="529.97" text-anchor="middle" font-size="12.5" fill="#222">5.32</text>
<text x="282.58" y="473.96" text-anchor="middle" font-size="12.5" fill="#222">6.15</text>
<text x="301.42" y="507.41" text-anchor="middle" font-size="12.5" fill="#222">5.92</text>
<text x="320.25" y="473.21" text-anchor="middle" font-size="12.5" fill="#222">6.17</text>
<text x="339.08" y="506.28" text-anchor="middle" font-size="12.5" fill="#222">5.95</text>
<text x="357.92" y="461.55" text-anchor="middle" font-size="12.5" fill="#222">6.48</text>
<text x="363.20" y="501.02" text-anchor="middle" font-size="12.5" fill="#222">6.09</text>
<text x="395.58" y="503.65" text-anchor="middle" font-size="12.5" fill="#222">6.02</text>
<text x="401.20" y="457.04" text-anchor="middle" font-size="12.5" fill="#222">6.60</text>
<text x="420.10" y="438.62" text-anchor="middle" font-size="12.5" fill="#222">7.09</text>
<text x="447.00" y="435.98" text-anchor="middle" font-size="12.5" fill="#222">7.16</text>
<circle cx="395.58" cy="487.05" r="4.3" fill="#f4a443" stroke="#000" stroke-width="2"/>
<text x="10.5" y="32.9" font-size="20.3" fill="#666" stroke="#666" stroke-width="0.5" textLength="211" lengthAdjust="spacingAndGlyphs">연월별 운영형태별 거래액</text>
<text x="1374" y="63.4" font-size="11.8" fill="#333" stroke="#333" stroke-width="0.25" textLength="65" lengthAdjust="spacingAndGlyphs">거래액(조 원)</text>
<defs><linearGradient id="g" x1="0" x2="1" y1="0" y2="0"><stop offset="0" stop-color="#bde7dc"/><stop offset="0.5" stop-color="#47a3bb"/><stop offset="1" stop-color="#22497a"/></linearGradient></defs>
<rect x="1407.5" y="73.5" width="77" height="16" fill="url(#g)" stroke="#b5ab9c" stroke-width="1"/>
<text x="1402.5" y="86" text-anchor="end" font-size="13" fill="#333">94.2</text>
<text x="1488.5" y="86" font-size="13" fill="#333">209.9</text>
<text x="1374" y="128.2" font-size="11.8" fill="#333" stroke="#333" stroke-width="0.25" textLength="69" lengthAdjust="spacingAndGlyphs">운영형태별(1)</text>
<rect x="1377" y="137" width="14" height="14" fill="#8db000"/>
<rect x="1377" y="157" width="14" height="14" fill="#f4a443"/>
<text x="1395" y="148.4" font-size="11.8" fill="#333" stroke="#333" stroke-width="0.25" textLength="91" lengthAdjust="spacingAndGlyphs">온·오프라인 병행몰</text>
<text x="1395" y="168.4" font-size="11.8" fill="#333" stroke="#333" stroke-width="0.25" textLength="67" lengthAdjust="spacingAndGlyphs">온라인 전용몰</text>
<text x="1374" y="194.4" font-size="11.8" fill="#333" stroke="#333" stroke-width="0.25" textLength="55.5" lengthAdjust="spacingAndGlyphs">날짜의 연도</text>
<rect x="1380.5" y="205.5" width="14" height="14" rx="1.8" fill="#fff" stroke="#d2d2d2" stroke-width="1"/>
<text x="1400" y="217" font-size="13" fill="#333" textLength="28.5" lengthAdjust="spacingAndGlyphs">(전체)</text>
<rect x="1380.5" y="224.5" width="14" height="14" rx="1.8" fill="#fff" stroke="#d2d2d2" stroke-width="1"/>
<text x="1400" y="236" font-size="13" fill="#333">2017</text>
<rect x="1380.5" y="243.5" width="14" height="14" rx="1.8" fill="#fff" stroke="#d2d2d2" stroke-width="1"/>
<text x="1400" y="255" font-size="13" fill="#333">2018</text>
<rect x="1380.5" y="262.5" width="14" height="14" rx="1.8" fill="#fff" stroke="#d2d2d2" stroke-width="1"/>
<text x="1400" y="274" font-size="13" fill="#333">2019</text>
<rect x="1380.5" y="281.5" width="14" height="14" rx="1.8" fill="#fff" stroke="#d2d2d2" stroke-width="1"/>
<text x="1400" y="293" font-size="13" fill="#333">2020</text>
<rect x="1380.5" y="300.5" width="14" height="14" rx="1.8" fill="#fff" stroke="#d2d2d2" stroke-width="1"/>
<text x="1400" y="312" font-size="13" fill="#333">2021</text>
<rect x="1380.5" y="319.5" width="14" height="14" rx="1.8" fill="#fff" stroke="#d2d2d2" stroke-width="1"/>
<text x="1400" y="331" font-size="13" fill="#333">2022</text>
<rect x="1380.5" y="338.5" width="14" height="14" rx="1.8" fill="#fff" stroke="#555" stroke-width="1.2"/>
<path d="M1383.8,346 L1386.8,349 L1391.3,342.2" fill="none" stroke="#555" stroke-width="1.7"/>
<text x="1400" y="350" font-size="13" fill="#333">2023</text>
<line x1="1400" y1="345.5" x2="1428" y2="345.5" stroke="#333" stroke-width="1"/>
</svg>
</body></html>
